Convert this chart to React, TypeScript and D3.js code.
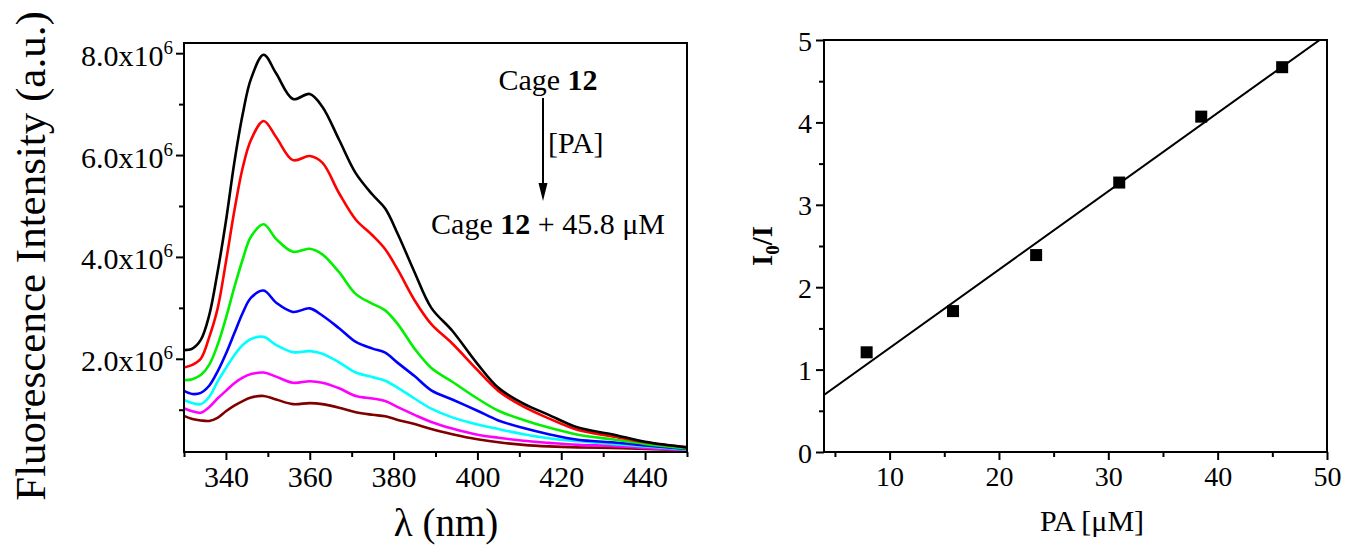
import { useEffect, useRef } from 'react'
import * as d3 from 'd3'

// emission spectra, intensity in units of 1e6 (a.u.)
const wavelengths = [330, 332, 334, 336, 338, 340, 342, 344, 346, 349, 352, 356, 360, 363, 367, 371, 375, 378, 381, 385, 389, 394, 400, 405, 411, 417, 424, 432, 440, 450]
const specBlack = [2.17, 2.2, 2.37, 2.85, 3.7, 4.7, 5.85, 6.8, 7.5, 7.97, 7.6, 7.1, 7.2, 6.95, 6.3, 5.64, 5.22, 4.95, 4.45, 3.7, 3.0, 2.55, 1.9, 1.43, 1.12, 0.9, 0.65, 0.52, 0.37, 0.26]
const specRed = [1.83, 1.88, 2.0, 2.42, 2.98, 3.9, 4.9, 5.75, 6.3, 6.67, 6.35, 5.9, 5.98, 5.85, 5.25, 4.73, 4.42, 4.15, 3.75, 3.15, 2.68, 2.3, 1.78, 1.37, 1.06, 0.83, 0.6, 0.48, 0.36, 0.26]
const specGreen = [1.58, 1.6, 1.68, 1.88, 2.27, 2.8, 3.4, 3.95, 4.4, 4.64, 4.35, 4.1, 4.16, 4.05, 3.7, 3.27, 3.08, 2.95, 2.68, 2.2, 1.82, 1.55, 1.22, 0.98, 0.8, 0.65, 0.51, 0.42, 0.33, 0.24]
const specBlue = [1.37, 1.31, 1.33, 1.47, 1.75, 2.1, 2.5, 2.9, 3.2, 3.34, 3.1, 2.92, 2.99, 2.85, 2.6, 2.33, 2.2, 2.12, 1.92, 1.66, 1.38, 1.2, 0.98, 0.79, 0.64, 0.52, 0.41, 0.36, 0.3, 0.23]
const specCyan = [1.19, 1.13, 1.11, 1.25, 1.55, 1.82, 2.07, 2.27, 2.39, 2.43, 2.27, 2.13, 2.15, 2.1, 1.93, 1.73, 1.64, 1.57, 1.43, 1.22, 1.02, 0.85, 0.71, 0.62, 0.52, 0.44, 0.38, 0.33, 0.28, 0.22]
const specMagenta = [1.03, 0.97, 0.94, 1.05, 1.22, 1.37, 1.52, 1.63, 1.7, 1.73, 1.65, 1.53, 1.56, 1.53, 1.42, 1.27, 1.22, 1.17, 1.05, 0.9, 0.76, 0.63, 0.51, 0.45, 0.39, 0.35, 0.31, 0.29, 0.25, 0.2]
const specBrown = [0.88, 0.82, 0.79, 0.78, 0.84, 0.97, 1.08, 1.17, 1.24, 1.27, 1.2, 1.11, 1.13, 1.11, 1.04, 0.95, 0.9, 0.87, 0.8, 0.72, 0.62, 0.52, 0.42, 0.36, 0.31, 0.28, 0.26, 0.25, 0.23, 0.2]
const spectra = [specBlack, specRed, specGreen, specBlue, specCyan, specMagenta, specBrown]
const specColors = ['#000000', '#ff0000', '#00f000', '#0000ff', '#00ffff', '#ff00ff', '#800000']

const wlMajor = [340, 360, 380, 400, 420, 440]
const wlMinor = [330, 350, 370, 390, 410, 430, 450]
const intMajor = [2, 4, 6, 8]
const intMinor = [1, 3, 5, 7]

// Stern-Volmer plot
const paConc = [7.9, 15.8, 23.4, 31.0, 38.5, 45.9]
const quench = [1.21, 1.71, 2.39, 3.27, 4.07, 4.67]
const paMajor = [10, 20, 30, 40, 50]
const paMinor = [5, 15, 25, 35, 45]
const qMajor = [0, 1, 2, 3, 4, 5]
const qMinor = [0.5, 1.5, 2.5, 3.5, 4.5]

const FONT = '"Liberation Serif", "Times New Roman", serif'

function ticks(g, axis, size, withText) {
  g.call(axis.tickSize(size).tickSizeOuter(0))
  g.select('.domain').remove()
  g.selectAll('.tick line').attr('stroke', '#000').attr('stroke-width', 2)
  if (!withText) g.selectAll('.tick text').remove()
}

function App() {
  const svgRef = useRef<SVGSVGElement>(null)

  useEffect(() => {
    const svg = d3.select(svgRef.current)
    svg.selectAll('*').remove()
    svg.attr('font-family', FONT)

    // ---------- left panel ----------
    const L = { left: 184, right: 687, top: 43, bottom: 452 }
    const x = d3.scaleLinear().domain([330, 450]).range([L.left, L.right])
    const y = d3.scaleLinear().domain([0.17, 8.2]).range([L.bottom, L.top])

    const line = d3
      .line<number>()
      .x((_, i) => x(wavelengths[i]))
      .y((d) => y(d))
      .curve(d3.curveCatmullRom.alpha(0.5))

    const left = svg.append('g')
    left
      .selectAll('path.spec')
      .data(spectra.slice().reverse())
      .join('path')
      .attr('class', 'spec')
      .attr('d', (d) => line(d))
      .attr('fill', 'none')
      .attr('stroke', (_, i) => specColors[spectra.length - 1 - i])
      .attr('stroke-width', 2.6)

    left
      .append('rect')
      .attr('x', L.left)
      .attr('y', L.top)
      .attr('width', L.right - L.left)
      .attr('height', L.bottom - L.top)
      .attr('fill', 'none')
      .attr('stroke', '#000')
      .attr('stroke-width', 2)

    const xb = left.append('g').attr('transform', `translate(0,${L.bottom})`)
    ticks(xb, d3.axisBottom(x).tickValues(wlMajor).tickPadding(6).tickFormat(d3.format('d')), 8, true)
    xb.selectAll('.tick text').attr('font-size', 30).attr('font-family', FONT).attr('fill', '#000')
    ticks(left.append('g').attr('transform', `translate(0,${L.bottom})`), d3.axisBottom(x).tickValues(wlMinor), 5, false)

    const yl = left.append('g').attr('transform', `translate(${L.left},0)`)
    ticks(yl, d3.axisLeft(y).tickValues(intMajor).tickPadding(3), 8, true)
    yl.selectAll('.tick text')
      .attr('font-size', 30)
      .attr('font-family', FONT)
      .attr('fill', '#000')
      .attr('dy', '0.4em')
      .each(function (d) {
        const t = d3.select(this)
        t.text(null)
        t.append('tspan').text(`${(d as number).toFixed(1)}x10`)
        t.append('tspan').attr('dy', -12).attr('font-size', 19).text('6')
      })
    ticks(left.append('g').attr('transform', `translate(${L.left},0)`), d3.axisLeft(y).tickValues(intMinor), 5, false)

    left
      .append('text')
      .attr('transform', `translate(45,256) rotate(-90)`)
      .attr('text-anchor', 'middle')
      .attr('font-size', 43)
      .text('Fluorescence Intensity (a.u.)')

    left
      .append('text')
      .attr('x', 446)
      .attr('y', 536)
      .attr('text-anchor', 'middle')
      .attr('font-size', 39)
      .text('λ (nm)')

    // annotation
    const t1 = left.append('text').attr('x', 548).attr('y', 90).attr('text-anchor', 'middle').attr('font-size', 30)
    t1.append('tspan').text('Cage ')
    t1.append('tspan').attr('font-weight', 'bold').text('12')
    left.append('line').attr('x1', 543).attr('x2', 543).attr('y1', 98).attr('y2', 188).attr('stroke', '#000').attr('stroke-width', 2)
    left.append('path').attr('d', 'M538.5,183 L547.5,183 L543,201 Z').attr('fill', '#000')
    left.append('text').attr('x', 548).attr('y', 153).attr('font-size', 30).text('[PA]')
    const t2 = left.append('text').attr('x', 548).attr('y', 234).attr('text-anchor', 'middle').attr('font-size', 30)
    t2.append('tspan').text('Cage ')
    t2.append('tspan').attr('font-weight', 'bold').text('12')
    t2.append('tspan').text(' + 45.8 μM')

    // ---------- right panel ----------
    const R = { left: 824, right: 1327, top: 40, bottom: 452 }
    const px = d3.scaleLinear().domain([4, 50]).range([R.left, R.right])
    const py = d3.scaleLinear().domain([0, 5]).range([R.bottom, R.top])
    const right = svg.append('g')

    right.append('clipPath').attr('id', 'rclip').append('rect')
      .attr('x', R.left).attr('y', R.top).attr('width', R.right - R.left).attr('height', R.bottom - R.top)

    // least-squares fit through the points
    const mx = d3.mean(paConc) as number
    const my = d3.mean(quench) as number
    const slope = d3.sum(paConc, (v, i) => (v - mx) * (quench[i] - my)) / d3.sum(paConc, (v) => (v - mx) ** 2)
    const icpt = my - slope * mx
    right
      .append('line')
      .attr('clip-path', 'url(#rclip)')
      .attr('x1', px(4))
      .attr('y1', py(icpt + slope * 4))
      .attr('x2', px(50))
      .attr('y2', py(icpt + slope * 50))
      .attr('stroke', '#000')
      .attr('stroke-width', 2)

    const sq = 12
    right
      .selectAll('rect.pt')
      .data(paConc)
      .join('rect')
      .attr('class', 'pt')
      .attr('x', (d) => px(d) - sq / 2)
      .attr('y', (_, i) => py(quench[i]) - sq / 2)
      .attr('width', sq)
      .attr('height', sq)
      .attr('fill', '#000')

    right
      .append('rect')
      .attr('x', R.left)
      .attr('y', R.top)
      .attr('width', R.right - R.left)
      .attr('height', R.bottom - R.top)
      .attr('fill', 'none')
      .attr('stroke', '#000')
      .attr('stroke-width', 2)

    const rb = right.append('g').attr('transform', `translate(0,${R.bottom})`)
    ticks(rb, d3.axisBottom(px).tickValues(paMajor).tickPadding(6).tickFormat(d3.format('d')), 8, true)
    rb.selectAll('.tick text').attr('font-size', 28).attr('font-family', FONT).attr('fill', '#000')
    ticks(right.append('g').attr('transform', `translate(0,${R.bottom})`), d3.axisBottom(px).tickValues(paMinor), 5, false)

    const rl = right.append('g').attr('transform', `translate(${R.left},0)`)
    ticks(rl, d3.axisLeft(py).tickValues(qMajor).tickPadding(4).tickFormat(d3.format('d')), 8, true)
    rl.selectAll('.tick text').attr('font-size', 28).attr('font-family', FONT).attr('fill', '#000').attr('dy', '0.36em')
    ticks(right.append('g').attr('transform', `translate(${R.left},0)`), d3.axisLeft(py).tickValues(qMinor), 5, false)

    right
      .append('text')
      .attr('x', 1092)
      .attr('y', 531)
      .attr('text-anchor', 'middle')
      .attr('font-size', 30)
      .text('PA [μM]')

    const yt = right
      .append('text')
      .attr('transform', `translate(772,${(R.top + R.bottom) / 2}) rotate(-90)`)
      .attr('text-anchor', 'middle')
      .attr('font-size', 29)
      .attr('font-weight', 'bold')
    yt.append('tspan').text('I')
    yt.append('tspan').attr('dy', 7).attr('font-size', 19).text('0')
    yt.append('tspan').attr('dy', -7).text('/I')
  }, [])

  return (
    <svg
      ref={svgRef}
      width={1347}
      height={548}
      style={{ position: 'absolute', left: 0, top: 0, background: '#fff' }}
    />
  )
}

export default App
